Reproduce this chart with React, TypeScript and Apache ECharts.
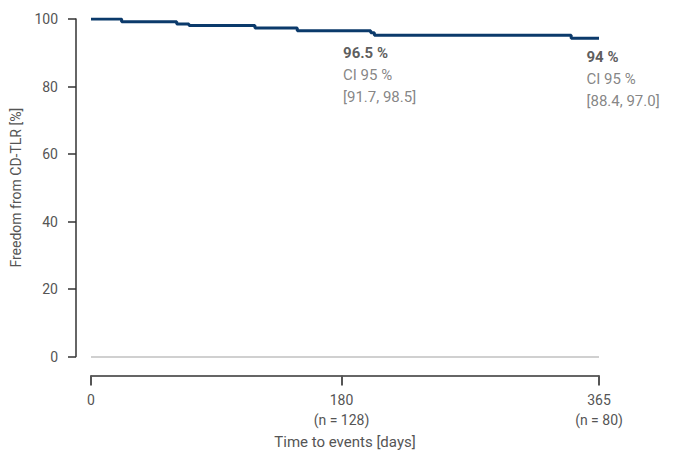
import React, { useEffect, useRef } from "react";
import * as echarts from "echarts";

const stepTimes = [0, 22, 61.6, 70.4, 117.8, 148.2, 201, 203.6, 345, 365];
const survival = [100, 99.2, 98.5, 98.1, 97.3, 96.5, 95.9, 95.2, 94.3, 94.3];
const xTicks = [0, 180, 365];
const xTickLabels = ["0", "180\n(n = 128)", "365\n(n = 80)"];
const yTicks = [0, 20, 40, 60, 80, 100];
const annotTimes = [180, 365];
const annotValues = [96.5, 94.3];
const annotMain = ["96.5 %", "94 %"];
const annotCI = ["[91.7, 98.5]", "[88.4, 97.0]"];

const FONT = "Roboto, 'Noto Sans', sans-serif";

export default function App() {
  const ref = useRef<HTMLDivElement>(null);
  useEffect(() => {
    if (!ref.current) return;
    const chart = echarts.init(ref.current, undefined, { renderer: "svg" });
    const lineData = stepTimes.map((t, i) => [t, survival[i]]);
    const annotData = annotTimes.map((t, i) => ({
      value: [t, annotValues[i]],
      label: {
        formatter: `{b|${annotMain[i]}}\n{n|CI 95 %}\n{n|${annotCI[i]}}`,
        position: i === 0 ? [2, 12] : [-12, 8],
      },
    }));
    chart.setOption({
      animation: false,
      textStyle: { fontFamily: FONT },
      grid: { left: 91, right: 77, top: 19, bottom: 93.5, outerBoundsMode: "none", containLabel: false },
      xAxis: {
        type: "value",
        min: 0,
        max: 365,
        offset: 19,
        name: "Time to events [days]",
        nameLocation: "middle",
        nameGap: 56,
        nameTextStyle: { color: "#555", fontSize: 15, fontFamily: FONT },
        axisLine: { show: true, onZero: false, lineStyle: { color: "#333", width: 1.5 } },
        axisTick: { show: true, length: 10, lineStyle: { color: "#555", width: 2 }, customValues: xTicks },
        axisLabel: {
          customValues: xTicks,
          margin: 14,
          color: "#555",
          fontSize: 14,
          lineHeight: 20,
          fontFamily: FONT,
          formatter: (v: number) => xTickLabels[xTicks.indexOf(v)] ?? "",
        },
        splitLine: { show: false },
      },
      yAxis: {
        type: "value",
        min: 0,
        max: 100,
        interval: 20,
        offset: 15,
        name: "Freedom from CD-TLR [%]",
        nameLocation: "middle",
        nameGap: 50,
        nameTextStyle: { color: "#555", fontSize: 14, fontFamily: FONT },
        axisLine: { show: true, onZero: false, lineStyle: { color: "#333", width: 1.5 } },
        axisTick: { show: true, length: 8, lineStyle: { color: "#333", width: 1.5 } },
        axisLabel: {
          margin: 18,
          color: "#555",
          fontSize: 14,
          fontFamily: FONT,
          formatter: (v: number) => (yTicks.includes(v) ? String(v) : ""),
        },
        splitLine: { show: false },
      },
      series: [
        {
          type: "line",
          step: "end",
          data: lineData,
          showSymbol: false,
          lineStyle: { color: "#0b3a6b", width: 3 },
          z: 3,
          markLine: {
            silent: true,
            symbol: ["none", "none"],
            label: { show: false },
            lineStyle: { color: "#d0d0d0", width: 2, type: "solid" },
            data: [{ yAxis: 0 }],
          },
        },
        {
          type: "scatter",
          data: annotData,
          symbolSize: 1,
          itemStyle: { color: "rgba(0,0,0,0)" },
          silent: true,
          label: {
            show: true,
            align: "left",
            verticalAlign: "top",
            fontFamily: FONT,
            rich: {
              b: { fontSize: 15, fontWeight: "bold", color: "#333", lineHeight: 22, fontFamily: FONT },
              n: { fontSize: 15, color: "#666", lineHeight: 22, fontFamily: FONT },
            },
          },
        },
      ],
    });
    return () => chart.dispose();
  }, []);
  return (
    <div
      ref={ref}
      style={{ position: "fixed", left: 0, top: 0, width: 676, height: 450, background: "#fff" }}
    />
  );
}
